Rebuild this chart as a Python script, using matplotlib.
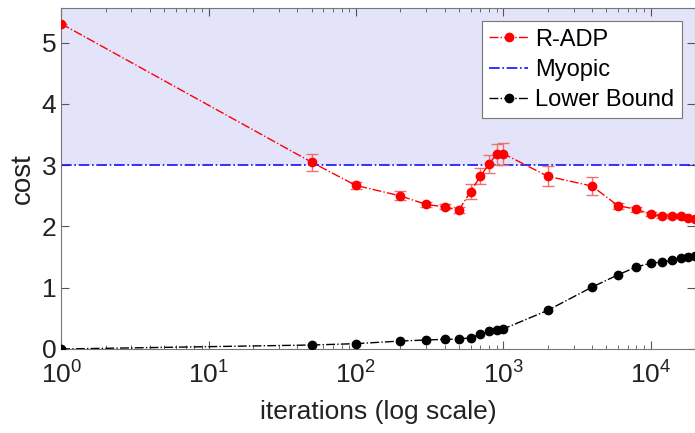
import numpy as np
import matplotlib
matplotlib.use("Agg")
import matplotlib.pyplot as plt

# iterations (x) for both curves
iters = [1, 50, 100, 200, 300, 400, 500, 600, 700, 800, 900, 1000,
         2000, 4000, 6000, 8000, 10000, 12000, 14000, 16000, 18000, 20000]

radp = [5.31, 3.05, 2.67, 2.50, 2.36, 2.32, 2.27, 2.57, 2.82, 3.02, 3.18, 3.19,
        2.82, 2.66, 2.34, 2.28, 2.20, 2.17, 2.17, 2.17, 2.14, 2.13]
radp_err = [0.0, 0.14, 0.06, 0.075, 0.04, 0.04, 0.05, 0.12, 0.13, 0.14, 0.17, 0.18,
            0.16, 0.14, 0.05, 0.04, 0.03, 0.03, 0.03, 0.03, 0.03, 0.03]

lower = [0.0, 0.065, 0.087, 0.13, 0.147, 0.158, 0.16, 0.185, 0.24, 0.29, 0.31, 0.327,
         0.63, 1.01, 1.21, 1.34, 1.40, 1.42, 1.45, 1.48, 1.50, 1.51]

myopic = 3.0

plt.rcParams["font.family"] = ["Liberation Sans", "DejaVu Sans"]
plt.rcParams["mathtext.fontset"] = "custom"
plt.rcParams["mathtext.rm"] = "Liberation Sans"

fig = plt.figure(figsize=(6.95, 4.33), dpi=100)
ax = fig.add_axes([0.088, 0.194, 0.912, 0.788])

ax.axhspan(myopic, 10, color="#E3E3FA", zorder=0, lw=0)

# error bars drawn separately so the legend shows a plain line+marker
ax.errorbar(iters, radp, yerr=radp_err, fmt="none", ecolor="#F07070",
            elinewidth=1, capsize=4, zorder=3)
ax.plot(iters, radp, "-.o", color="red", ms=6, lw=1, label="R-ADP", zorder=4)
ax.axhline(myopic, color="#1010FF", ls="-.", lw=1.2, label="Myopic", zorder=2)
ax.plot(iters, lower, "-.o", color="black", ms=6, lw=1, label="Lower Bound", zorder=4)

ax.set_xscale("log")
ax.set_xlim(1, 2e4)
ax.set_ylim(0, 5.57)
ax.set_yticks([0, 1, 2, 3, 4, 5])

ax.tick_params(which="both", direction="in", top=True, right=True, color="#555555",
               labelcolor="#222222")
ax.tick_params(which="major", length=6, labelsize=19)
ax.tick_params(axis="x", which="major", pad=9)
ax.tick_params(which="minor", length=3)
for s in ax.spines.values():
    s.set_color("#777777")

ax.set_xlabel("iterations (log scale)", fontsize=19, color="#222222", labelpad=8)
ax.set_ylabel("cost", fontsize=20, color="#222222")

leg = ax.legend(loc="upper right", fontsize=17, fancybox=False, framealpha=1,
                edgecolor="#777777", handlelength=1.65, handletextpad=0.3,
                borderpad=0.3, labelspacing=0.35, borderaxespad=0,
                bbox_to_anchor=(0.979, 0.96))
leg.get_frame().set_linewidth(0.8)

fig.savefig("out.png", dpi=100)
